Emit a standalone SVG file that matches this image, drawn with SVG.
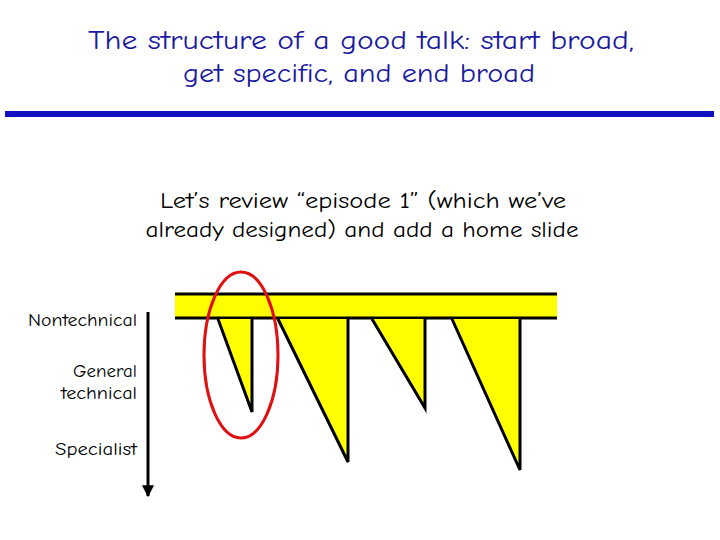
<svg xmlns="http://www.w3.org/2000/svg" width="720" height="540" viewBox="0 0 720 540">
<defs>
<style>
text{font-family:"Comic Neue","DejaVu Sans","Liberation Sans",sans-serif}
.t{fill:#1a1aa0;font-size:26px;text-anchor:middle}
.s{fill:#000;font-size:22px;text-anchor:middle}
.l{fill:#000;font-size:17px;text-anchor:end}
.tri{fill:#ffff00;stroke:none}
.ln{stroke:#000;stroke-width:3;fill:none}
</style>
<marker id="ah" markerWidth="12" markerHeight="12" refX="9" refY="5" orient="auto" markerUnits="userSpaceOnUse" viewBox="0 0 10 10"><path d="M0,0 L10,5 L0,10 Z" fill="#000"/></marker>
</defs>
<g id="title">
<text class="t" x="361" y="49" textLength="546" lengthAdjust="spacingAndGlyphs">The structure of a good talk: start broad,</text>
<text class="t" x="359" y="82" textLength="352" lengthAdjust="spacingAndGlyphs">get specific, and end broad</text>
</g>
<rect x="5" y="111" width="709" height="6" fill="#1010c0"/>
<g id="subtitle">
<text class="s" x="363" y="208" textLength="406" lengthAdjust="spacingAndGlyphs">Let’s review “episode 1” (which we’ve</text>
<text class="s" x="362" y="237" textLength="433" lengthAdjust="spacingAndGlyphs">already designed) and add a home slide</text>
</g>
<g id="band">
<rect x="175" y="294" width="382" height="24" fill="#ffff00"/>
<line class="ln" x1="175" y1="294" x2="557" y2="294"/>
<line class="ln" x1="175" y1="318" x2="557" y2="318"/>
</g>
<g id="ep1"><polygon class="tri" points="218,319 252,319 252,412"/><path class="ln" d="M218,319 L252,412 L252,319"/></g>
<g id="ep2"><polygon class="tri" points="278,319 348,319 348,462"/><path class="ln" d="M278,319 L348,462 L348,319"/></g>
<g id="ep3"><polygon class="tri" points="372,319 425,319 425,408"/><path class="ln" d="M372,319 L425,408 L425,319"/></g>
<g id="ep4"><polygon class="tri" points="452,319 520,319 520,470"/><path class="ln" d="M452,319 L520,470 L520,319"/></g>
<g id="highlight"><ellipse cx="241" cy="355" rx="37" ry="83" fill="none" stroke="#e01010" stroke-width="3"/></g>
<g id="axis">
<line x1="148" y1="312" x2="148" y2="496" stroke="#000" stroke-width="3" marker-end="url(#ah)"/>
<text class="l" x="137" y="326" textLength="109" lengthAdjust="spacingAndGlyphs">Nontechnical</text>
<text class="l" x="137" y="377" textLength="64" lengthAdjust="spacingAndGlyphs">General</text>
<text class="l" x="137" y="399" textLength="76" lengthAdjust="spacingAndGlyphs">technical</text>
<text class="l" x="137" y="455" textLength="82" lengthAdjust="spacingAndGlyphs">Specialist</text>
</g>
</svg>
